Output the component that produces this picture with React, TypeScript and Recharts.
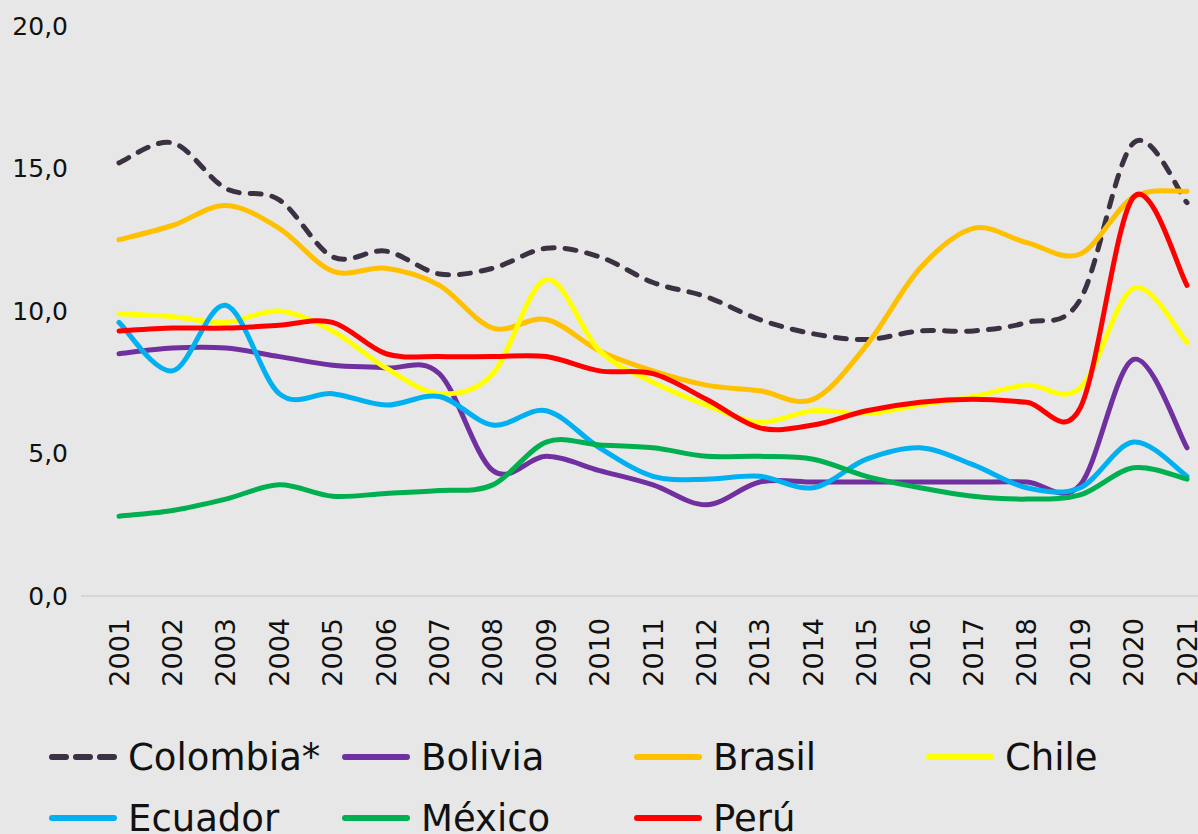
import React from "react";
import { LineChart, Line, XAxis, YAxis, Legend } from "recharts";

const years = [
  2001, 2002, 2003, 2004, 2005, 2006, 2007, 2008, 2009, 2010, 2011,
  2012, 2013, 2014, 2015, 2016, 2017, 2018, 2019, 2020, 2021,
];

const colombia = [15.2, 15.9, 14.3, 13.9, 11.9, 12.1, 11.3, 11.5, 12.2, 11.9, 11.0, 10.5, 9.7, 9.2, 9.0, 9.3, 9.3, 9.6, 10.4, 15.9, 13.8];
const bolivia = [8.5, 8.7, 8.7, 8.4, 8.1, 8.0, 7.8, 4.4, 4.9, 4.4, 3.9, 3.2, 4.0, 4.0, 4.0, 4.0, 4.0, 4.0, 3.9, 8.3, 5.2];
const brasil = [12.5, 13.0, 13.7, 12.9, 11.4, 11.5, 10.9, 9.4, 9.7, 8.6, 7.9, 7.4, 7.2, 6.9, 8.8, 11.5, 12.9, 12.4, 12.0, 14.0, 14.2];
const chile = [9.9, 9.8, 9.6, 10.0, 9.3, 8.0, 7.1, 7.8, 11.1, 8.6, 7.5, 6.7, 6.1, 6.5, 6.4, 6.7, 7.0, 7.4, 7.3, 10.8, 8.9];
const ecuador = [9.6, 7.9, 10.2, 7.1, 7.1, 6.7, 7.0, 6.0, 6.5, 5.2, 4.2, 4.1, 4.2, 3.8, 4.8, 5.2, 4.6, 3.8, 3.8, 5.4, 4.2];
const mexico = [2.8, 3.0, 3.4, 3.9, 3.5, 3.6, 3.7, 3.9, 5.4, 5.3, 5.2, 4.9, 4.9, 4.8, 4.2, 3.8, 3.5, 3.4, 3.55, 4.5, 4.1];
const peru = [9.3, 9.4, 9.4, 9.5, 9.6, 8.5, 8.4, 8.4, 8.4, 7.9, 7.8, 6.9, 5.9, 6.0, 6.5, 6.8, 6.9, 6.8, 6.6, 14.0, 10.9];

const yTicks = [0, 5, 10, 15, 20];

const series = [
  { key: "colombia", name: "Colombia*", color: "#3b3142", dashed: true },
  { key: "bolivia", name: "Bolivia", color: "#7030a0" },
  { key: "brasil", name: "Brasil", color: "#ffc000" },
  { key: "chile", name: "Chile", color: "#ffff00" },
  { key: "ecuador", name: "Ecuador", color: "#00b0f0" },
  { key: "mexico", name: "México", color: "#00b050" },
  { key: "peru", name: "Perú", color: "#ff0000" },
];

const data = years.map((year, i) => ({
  year,
  colombia: colombia[i],
  bolivia: bolivia[i],
  brasil: brasil[i],
  chile: chile[i],
  ecuador: ecuador[i],
  mexico: mexico[i],
  peru: peru[i],
}));

const FONT = "'DejaVu Sans', sans-serif";

// smoothing like the spreadsheet's "smoothed line" (catmull-rom through every point)
function smoothCurve(context: any) {
  let pts: number[][] = [];
  return {
    areaStart() {},
    areaEnd() {},
    lineStart() {
      pts = [];
    },
    point(x: number, y: number) {
      pts.push([+x, +y]);
    },
    lineEnd() {
      if (!pts.length) return;
      context.moveTo(pts[0][0], pts[0][1]);
      for (let i = 0; i < pts.length - 1; i++) {
        const p0 = pts[i - 1] || pts[i];
        const p1 = pts[i];
        const p2 = pts[i + 1];
        const p3 = pts[i + 2] || p2;
        context.bezierCurveTo(
          p1[0] + (p2[0] - p0[0]) / 6,
          p1[1] + (p2[1] - p0[1]) / 6,
          p2[0] - (p3[0] - p1[0]) / 6,
          p2[1] - (p3[1] - p1[1]) / 6,
          p2[0],
          p2[1]
        );
      }
    },
  };
}

const YearTick = (props: any) => {
  const { x, y, payload } = props;
  return (
    <text
      x={x}
      y={y}
      transform={`rotate(-90 ${x} ${y})`}
      textAnchor="end"
      dominantBaseline="central"
      fontSize={27}
      fontFamily={FONT}
      fill="#111"
    >
      {payload.value}
    </text>
  );
};

const legendCols = [49, 342, 634, 926];

const LegendContent = () => (
  <div style={{ position: "relative", width: 1198, height: 120, fontFamily: FONT }}>
    {series.map((s, i) => {
      const col = i % 4;
      const row = Math.floor(i / 4);
      return (
        <div
          key={s.key}
          style={{
            position: "absolute",
            left: legendCols[col],
            top: row * 61,
            height: 60,
            display: "flex",
            alignItems: "center",
            whiteSpace: "nowrap",
          }}
        >
          <svg width={68} height={10} style={{ marginRight: 11 }}>
            <line
              x1={3}
              y1={5}
              x2={65}
              y2={5}
              stroke={s.color}
              strokeWidth={6}
              strokeLinecap="round"
              strokeDasharray={s.dashed ? "14 10" : undefined}
            />
          </svg>
          <span style={{ fontSize: 37, color: "#111" }}>{s.name}</span>
        </div>
      );
    })}
  </div>
);

export default function App() {
  return (
    <div
      style={{
        position: "absolute",
        top: 0,
        left: 0,
        width: 1198,
        height: 834,
        overflow: "hidden",
        background: "#e7e7e7",
      }}
    >
      <LineChart
        width={1198}
        height={834}
        data={data}
        margin={{ top: 26, right: 0, bottom: 138, left: 0 }}
      >
        <XAxis
          dataKey="year"
          type="number"
          domain={[2001, 2021]}
          ticks={years}
          interval={0}
          padding={{ left: 38, right: 11 }}
          height={100}
          tickLine={false}
          tickSize={0}
          tickMargin={22}
          axisLine={{ stroke: "#d6d6d6", strokeWidth: 2 }}
          tick={<YearTick />}
        />
        <YAxis
          domain={[0, 20]}
          ticks={yTicks}
          width={81}
          axisLine={false}
          tickLine={false}
          tickSize={0}
          tickMargin={13}
          tickFormatter={(v: number) => v.toFixed(1).replace(".", ",")}
          tick={{ fontSize: 25, fontFamily: FONT, fill: "#111" }}
        />
        <Legend
          layout="horizontal"
          verticalAlign="middle"
          align="center"
          content={<LegendContent />}
          wrapperStyle={{ position: "absolute", top: 727, left: 0, width: 1198 }}
        />
        {series.map((s) => (
          <Line
            key={s.key}
            dataKey={s.key}
            name={s.name}
            type={smoothCurve as any}
            stroke={s.color}
            strokeWidth={5}
            strokeDasharray={s.dashed ? "11 11" : undefined}
            strokeLinecap="round"
            dot={false}
            activeDot={false}
            isAnimationActive={false}
          />
        ))}
      </LineChart>
    </div>
  );
}
